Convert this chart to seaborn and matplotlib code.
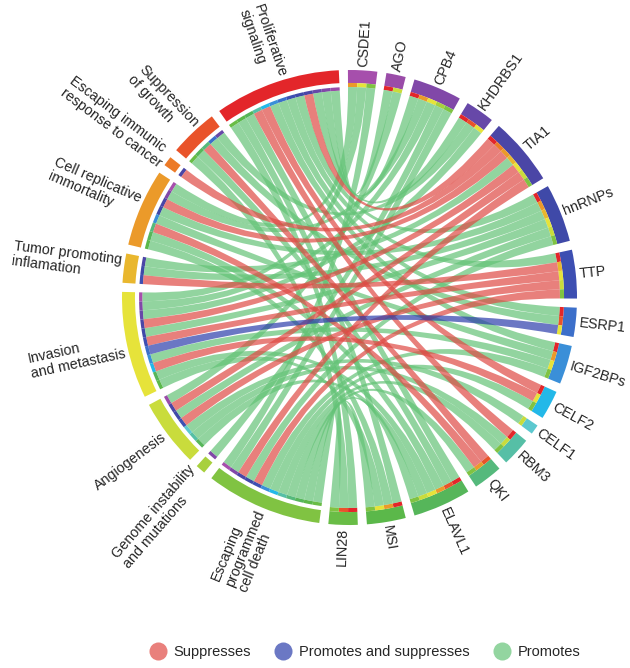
import numpy as np
import matplotlib
matplotlib.use("Agg")
import matplotlib.pyplot as plt
import seaborn as sns
from matplotlib.patches import Wedge, PathPatch
from matplotlib.path import Path
from matplotlib.lines import Line2D

# hallmarks of cancer (one side of the circle)
hallmarks = ["Proliferative\nsignaling", "Suppression\nof growth", "Escaping immunic\nresponse to cancer",
             "Cell replicative\nimmortality", "Tumor promoting\ninflamation", "Invasion\nand metastasis",
             "Angiogenesis", "Genome instability\nand mutations", "Escaping\nprogrammed\ncell death"]
hallmark_colors = ["#e3262a", "#e9532a", "#ec7a27", "#eb9a2a", "#e9b72e", "#e6e33a",
                   "#c9dc3c", "#a8d03d", "#80c342"]

# RNA binding proteins (other side)
rbps = ["CSDE1", "AGO", "CPB4", "KHDRBS1", "TIA1", "hnRNPs", "TTP", "ESRP1", "IGF2BPs",
        "CELF2", "CELF1", "RBM3", "QKI", "ELAVL1", "MSI", "LIN28"]
rbp_colors = ["#a64fac", "#9a4ca8", "#8148a8", "#6748a8", "#4b46a6", "#3f49a8", "#3d4fb2", "#3c6fca",
              "#3a8fd8", "#23b8e8", "#5cc8cf", "#56bfa6", "#55b97c", "#56b65a", "#5bb84a", "#69bd46"]

# links: rbp, hallmark index, effect (S = suppresses, B = promotes and suppresses, P = promotes)
link_rbp = ["CSDE1"] * 3 + ["AGO"] * 2 + ["CPB4"] * 5 + ["KHDRBS1"] * 3 + ["TIA1"] * 7 + \
           ["hnRNPs"] * 6 + ["TTP"] * 5 + ["ESRP1"] * 3 + ["IGF2BPs"] * 4 + ["CELF2"] * 3 + \
           ["CELF1"] * 1 + ["RBM3"] * 3 + ["QKI"] * 3 + ["ELAVL1"] * 6 + ["MSI"] * 4 + ["LIN28"] * 3
link_hallmark = [3, 5, 8,
                 0, 6,
                 0, 3, 5, 7, 8,
                 0, 1, 5,
                 0, 2, 3, 4, 5, 6, 8,
                 0, 3, 4, 5, 6, 8,
                 0, 4, 5, 6, 8,
                 0, 1, 5,
                 0, 3, 5, 8,
                 0, 5, 8,
                 6,
                 0, 6, 8,
                 1, 3, 8,
                 0, 1, 3, 5, 6, 8,
                 0, 3, 5, 8,
                 0, 1, 8]
link_effect = ["P", "P", "P",
               "P", "P",
               "P", "P", "P", "P", "P",
               "P", "P", "P",
               "S", "S", "S", "P", "S", "S", "S",
               "P", "P", "P", "P", "P", "P",
               "P", "S", "S", "S", "S",
               "P", "P", "B",
               "P", "P", "P", "P",
               "S", "S", "P",
               "P",
               "S", "P", "P",
               "S", "S", "P",
               "P", "P", "P", "P", "P", "P",
               "P", "P", "P", "P",
               "P", "P", "P"]

effect_names = {"S": "Suppresses", "B": "Promotes and suppresses", "P": "Promotes"}
effect_colors = {"S": "#df4a44", "B": "#2c3eab", "P": "#64c377"}
legend_colors = {"S": "#e9807c", "B": "#6b78c4", "P": "#93d5a0"}

sns.set_theme(style="white")
plt.rcParams["font.family"] = ["Liberation Sans", "DejaVu Sans"]

fig = plt.figure(figsize=(6.3, 6.68), dpi=100)
ax = fig.add_axes([0, 0, 1, 1])
R = 227.5
cx, cy = 349.5, 297.5
ax.set_xlim(-cx / R, (630 - cx) / R)
ax.set_ylim(-(668 - cy) / R, cy / R)
ax.set_aspect("equal")
ax.set_axis_off()

# sector layout, clockwise from the top: rbps, then hallmarks in reverse
n_links = len(link_rbp)
sectors = [("r", i) for i in range(len(rbps))] + [("h", i) for i in reversed(range(len(hallmarks)))]
counts = {("r", i): link_rbp.count(r) for i, r in enumerate(rbps)}
counts.update({("h", i): link_hallmark.count(i) for i in range(len(hallmarks))})
unit = 2.48
gap = (360 - 2 * n_links * unit) / len(sectors)
start = 90.4
span = {}
a = start
for s in sectors:
    span[s] = (a, a - counts[s] * unit)
    a = a - counts[s] * unit - gap

rbp_idx = [rbps.index(r) for r in link_rbp]

# slot each link end inside its sector
slot_r, slot_h = {}, {}
for i in range(len(rbps)):
    ids = sorted([k for k in range(n_links) if rbp_idx[k] == i], key=lambda k: link_hallmark[k])
    hi = span[("r", i)][0]
    for j, k in enumerate(ids):
        slot_r[k] = (hi - (j + 1) * unit, hi - j * unit)
for i in range(len(hallmarks)):
    ids = sorted([k for k in range(n_links) if link_hallmark[k] == i], key=lambda k: -rbp_idx[k])
    hi = span[("h", i)][0]
    for j, k in enumerate(ids):
        slot_h[k] = (hi - (j + 1) * unit, hi - j * unit)

r_ring, r_rstrip, r_hlink = 0.943, 0.925, 0.91


def pt(r, deg):
    t = np.deg2rad(deg)
    return (r * np.cos(t), r * np.sin(t))


def chord(h_lo, h_hi, r_lo, r_hi):
    verts, codes = [], []
    for j, d in enumerate(np.linspace(h_lo, h_hi, 12)):
        verts.append(pt(r_hlink, d))
        codes.append(Path.MOVETO if j == 0 else Path.LINETO)
    verts += [(0, 0), pt(r_rstrip, r_lo)]
    codes += [Path.CURVE3, Path.CURVE3]
    for d in np.linspace(r_lo, r_hi, 12)[1:]:
        verts.append(pt(r_rstrip, d))
        codes.append(Path.LINETO)
    verts += [(0, 0), pt(r_hlink, h_lo)]
    codes += [Path.CURVE3, Path.CURVE3]
    verts.append(pt(r_hlink, h_lo))
    codes.append(Path.CLOSEPOLY)
    return Path(verts, codes)


# outer ring
for s in sectors:
    hi, lo = span[s]
    col = rbp_colors[s[1]] if s[0] == "r" else hallmark_colors[s[1]]
    ax.add_patch(Wedge((0, 0), 1.0, lo, hi, width=1.0 - r_ring, color=col, lw=0))

# thin strips with the colour of the other end
for k in range(n_links):
    lo, hi = slot_r[k]
    ax.add_patch(Wedge((0, 0), r_ring, lo, hi, width=r_ring - r_rstrip,
                       color=hallmark_colors[link_hallmark[k]], lw=0))
    lo, hi = slot_h[k]
    ax.add_patch(Wedge((0, 0), r_rstrip, lo, hi, width=r_rstrip - r_hlink,
                       color=rbp_colors[rbp_idx[k]], lw=0))

# chords
for eff in ["P", "S", "B"]:
    for k in range(n_links):
        if link_effect[k] != eff:
            continue
        h_lo, h_hi = slot_h[k]
        r_lo, r_hi = slot_r[k]
        ax.add_patch(PathPatch(chord(h_lo, h_hi, r_lo, r_hi), facecolor=effect_colors[eff],
                               alpha=0.7, lw=0))

# labels
for s in sectors:
    hi, lo = span[s]
    mid = (hi + lo) / 2
    m = (mid + 180) % 360 - 180
    text = rbps[s[1]] if s[0] == "r" else hallmarks[s[1]]
    x, y = pt(1.015, mid)
    if -90 <= m <= 90:
        ax.text(x, y, text, rotation=m, rotation_mode="anchor", ha="left", va="center",
                multialignment="left", fontsize=10.3, linespacing=1.1)
    else:
        ax.text(x, y, text, rotation=m - 180 if m > 0 else m + 180, rotation_mode="anchor",
                ha="right", va="center", multialignment="left", fontsize=10.3, linespacing=1.1)

handles = [Line2D([], [], marker="o", ls="", markersize=13, markerfacecolor=legend_colors[e],
                  markeredgecolor="none") for e in ["S", "B", "P"]]
fig.legend(handles, [effect_names[e] for e in ["S", "B", "P"]], loc="center",
           bbox_to_anchor=(362 / 630, 1 - 652 / 668), ncol=3, frameon=False, fontsize=10.5,
           handletextpad=0.1, columnspacing=1.2)

fig.savefig("out.png", dpi=100, facecolor="white")
